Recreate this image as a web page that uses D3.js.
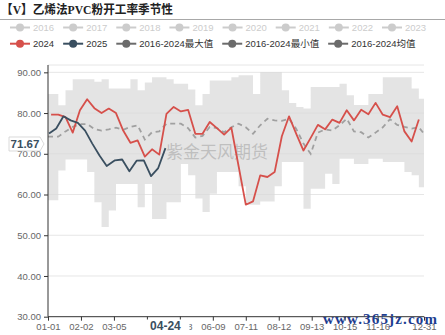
<!DOCTYPE html>
<html>
<head>
<meta charset="utf-8">
<script src="https://cdn.jsdelivr.net/npm/d3@7"></script>
<style>
  html, body { margin: 0; padding: 0; background: #fff; }
  svg { display: block; }
</style>
</head>
<body>
<svg id="chart" width="445" height="335"></svg>
<script>
// Operating rate of ethylene-process PVC, seasonal view (%)
const title = "【V】乙烯法PVC粉开工率季节性";

const legendRow1 = ["2016", "2017", "2018", "2019", "2020", "2021", "2022", "2023"];
const legendRow2 = ["2024", "2025", "2016-2024最大值", "2016-2024最小值", "2016-2024均值"];

const yTicks = [30, 40, 50, 60, 70, 80, 90];
const yMax = 91.8;
const xTickLabels = ["01-01", "02-02", "03-05", "04-06", "05-08", "06-09", "07-11", "08-12", "09-13", "10-15", "11-16", "12-31"];

// weekly readings (Thursdays)
const values2024 = [79.6, 79.6, 79.0, 75.2, 80.7, 83.4, 81.2, 80.0, 81.1, 80.0,
                    75.7, 72.7, 73.3, 69.3, 71.1, 69.8, 79.8, 81.5, 80.4, 80.8,
                    74.9, 74.9, 77.8, 76.3, 74.7, 76.4, 67.0, 57.5, 58.3, 64.7,
                    64.3, 65.5, 74.3, 79.2, 74.9, 70.8, 73.9, 77.1, 76.0, 78.4,
                    77.6, 80.7, 78.2, 80.8, 79.7, 82.5, 79.6, 79.0, 81.7, 75.5,
                    73.0, 78.4];
const values2025 = [75.0, 76.2, 79.2, 78.2, 77.6, 75.7, 72.5, 69.6, 67.0, 68.4,
                    68.6, 65.7, 68.3, 68.4, 64.5, 66.5, 71.4];
const maxValues = [84.7, 81.9, 85.6, 88.3, 88.3, 88.3, 87.7, 88.3, 86.0, 86.0,
                   86.0, 88.3, 85.6, 87.5, 88.8, 88.8, 88.3, 87.2, 87.2, 85.8,
                   81.9, 84.7, 88.0, 88.0, 88.0, 88.8, 89.3, 89.3, 84.7, 90.1,
                   90.1, 90.1, 85.6, 82.5, 81.5, 81.1, 86.4, 86.4, 86.4, 86.4,
                   87.2, 84.4, 82.0, 82.0, 84.7, 84.7, 88.8, 88.8, 88.8, 88.8,
                   86.0, 83.5];
const minValues = [58.6, 65.9, 68.6, 68.6, 68.6, 65.5, 58.1, 52.0, 56.1, 62.6,
                   62.6, 62.6, 56.9, 62.6, 54.0, 54.0, 58.1, 58.1, 67.5, 64.7,
                   59.0, 55.7, 60.2, 65.5, 65.5, 65.5, 62.0, 57.5, 57.5, 58.3,
                   58.3, 62.0, 68.0, 68.0, 68.0, 56.5, 61.4, 61.4, 65.1, 62.6,
                   68.8, 68.8, 67.5, 67.5, 68.8, 68.8, 68.0, 68.0, 68.0, 65.5,
                   64.7, 61.8];
// mean: 01-01, the weekly points, 12-31
const meanValues = [74.2,
                    74.2, 74.2, 75.5, 76.6, 77.3, 77.3, 76.1, 75.7, 76.0, 76.4,
                    75.9, 76.6, 77.0, 73.5, 75.3, 75.5, 77.4, 77.4, 77.4, 76.3,
                    74.0, 74.4, 76.6, 76.3, 75.3, 76.5, 77.4, 76.5, 74.9, 77.0,
                    78.6, 78.2, 78.1, 78.6, 76.1, 72.5, 70.0, 75.2, 76.0, 75.7,
                    77.0, 78.6, 75.5, 75.3, 74.0, 75.2, 76.5, 78.5, 77.1, 76.6,
                    76.2, 76.5,
                    74.9];
const pointerX = "04-24";
const pointerY = 71.67;

const fmt = d3.timeFormat("%m-%d");
const categories = d3.timeDay.range(new Date(2024, 0, 1), new Date(2025, 0, 1)).map(fmt);
const dates2024 = d3.timeThursday.range(new Date(2024, 0, 4), new Date(2025, 0, 1)).map(fmt);
const dates2025 = d3.timeThursday.range(new Date(2025, 0, 2), new Date(2025, 3, 25)).map(fmt);
const meanDates = [categories[0], ...dates2024, categories[categories.length - 1]];

const colors = {
  y2024: "#d6504b",
  y2025: "#3a4f60",
  stat: "#6b6b6b",
  off: "#cccccc",
  mean: "#a0a0a0",
  band: "#d9d9d9"
};

const svg = d3.select("#chart");
const margin = { left: 48, right: 424, top: 65, bottom: 316.7 };

const x = d3.scalePoint().domain(categories).range([margin.left, margin.right]);
const y = d3.scaleLinear().domain([30, yMax]).range([margin.bottom, margin.top]);

// title
svg.append("text")
  .attr("x", 1).attr("y", 14)
  .attr("font-family", "'Liberation Serif', 'Noto Sans CJK SC', serif")
  .attr("font-weight", "bold")
  .attr("font-size", 12.5)
  .attr("textLength", 172)
  .attr("lengthAdjust", "spacingAndGlyphs")
  .attr("fill", "#222")
  .text(title);
svg.append("line")
  .attr("x1", 0).attr("x2", 445).attr("y1", 19.5).attr("y2", 19.5)
  .attr("stroke", "#a8a8a8").attr("stroke-width", 1);

// legend
const legendFont = "'Liberation Sans', 'Noto Sans CJK SC', sans-serif";
function legendRow(items, rowY, colorOf, textColorOf) {
  let cx = 10;
  items.forEach(name => {
    const g = svg.append("g").attr("transform", `translate(${cx},${rowY})`);
    const c = colorOf(name);
    g.append("line").attr("x1", 0).attr("x2", 20).attr("y1", 0).attr("y2", 0)
      .attr("stroke", c).attr("stroke-width", 2);
    g.append("circle").attr("cx", 10).attr("cy", 0).attr("r", 4).attr("fill", c);
    const t = g.append("text").attr("x", 23).attr("y", 3.4)
      .attr("font-family", legendFont).attr("font-size", 9.5)
      .attr("fill", textColorOf(name)).text(name);
    cx += 23 + t.node().getComputedTextLength() + 9;
  });
}
legendRow(legendRow1, 27.5, () => colors.off, () => colors.off);
legendRow(legendRow2, 43.7,
  n => n === "2024" ? colors.y2024 : n === "2025" ? colors.y2025 : colors.stat,
  () => "#333");

// grid
const grid = svg.append("g");
grid.selectAll("line.h").data([...yTicks.slice(1), yMax]).join("line")
  .attr("x1", margin.left).attr("x2", margin.right)
  .attr("y1", d => y(d)).attr("y2", d => y(d))
  .attr("stroke", "#e6e6e6").attr("stroke-width", 1);

// max/min band
const bandData = [
  { d: categories[0], hi: maxValues[0], lo: minValues[0] },
  ...dates2024.map((d, i) => ({ d, hi: maxValues[i], lo: minValues[i] })),
  { d: categories[categories.length - 1], hi: maxValues[maxValues.length - 1], lo: minValues[minValues.length - 1] }
];
svg.append("path")
  .datum(bandData)
  .attr("fill", colors.band).attr("fill-opacity", 0.72)
  .attr("d", d3.area().curve(d3.curveStepAfter)
    .x(p => x(p.d)).y0(p => y(p.lo)).y1(p => y(p.hi)));

// watermark
svg.append("text")
  .attr("x", 217).attr("y", 158)
  .attr("text-anchor", "middle")
  .attr("font-family", "'Noto Sans CJK SC', sans-serif")
  .attr("font-size", 17)
  .attr("fill", "#9a9a9a").attr("fill-opacity", 0.5)
  .text("紫金天风期货");

const line = d3.line().x(p => x(p[0])).y(p => y(p[1]));

// mean
svg.append("path")
  .datum(meanDates.map((d, i) => [d, meanValues[i]]))
  .attr("fill", "none").attr("stroke", colors.mean).attr("stroke-width", 1.8)
  .attr("stroke-dasharray", "5,4")
  .attr("d", line);

// 2024
svg.append("path")
  .datum(dates2024.map((d, i) => [d, values2024[i]]))
  .attr("fill", "none").attr("stroke", colors.y2024).attr("stroke-width", 1.8)
  .attr("stroke-linejoin", "round")
  .attr("d", line);

// 2025
svg.append("path")
  .datum(dates2025.map((d, i) => [d, values2025[i]]))
  .attr("fill", "none").attr("stroke", colors.y2025).attr("stroke-width", 1.8)
  .attr("stroke-linejoin", "round")
  .attr("d", line);

// y axis
const yAxis = svg.append("g")
  .attr("transform", `translate(${margin.left},0)`)
  .call(d3.axisLeft(y).tickValues(yTicks).tickFormat(d3.format(".2f")).tickSize(4).tickPadding(3));
yAxis.select(".domain").attr("d", `M0,${margin.top}V${margin.bottom}`).attr("stroke", "#333");
yAxis.selectAll(".tick line").attr("stroke", "#333");
yAxis.selectAll(".tick text").attr("font-family", legendFont).attr("font-size", 9.5).attr("fill", "#666");

// x axis
const xAxis = svg.append("g")
  .attr("transform", `translate(0,${margin.bottom})`)
  .call(d3.axisBottom(x).tickValues(xTickLabels).tickSize(4).tickPadding(3));
xAxis.select(".domain").attr("d", `M${margin.left},0H${margin.right}`).attr("stroke", "#333");
xAxis.selectAll(".tick line").attr("stroke", "#333");
xAxis.selectAll(".tick text").attr("font-family", legendFont).attr("font-size", 9.5).attr("fill", "#666");

// pointer labels
const px = x(pointerX);
const xl = svg.append("g");
xl.append("rect").attr("x", px - 32).attr("y", 319.5).attr("width", 56).attr("height", 14).attr("fill", "#fff");
xl.append("text").attr("x", px).attr("y", 330)
  .attr("text-anchor", "middle")
  .attr("font-family", legendFont).attr("font-weight", "bold").attr("font-size", 12)
  .attr("fill", colors.y2025).text(pointerX);

const py = y(pointerY) - 3;
const yl = svg.append("g");
yl.append("path")
  .attr("d", `M9,${py - 7}H40L44,${py}L40,${py + 7}H9Z`)
  .attr("fill", "#fff").attr("stroke", "#d0d0d0").attr("stroke-width", 0.8);
yl.append("text").attr("x", 25).attr("y", py + 4)
  .attr("text-anchor", "middle")
  .attr("font-family", legendFont).attr("font-weight", "bold").attr("font-size", 11.5)
  .attr("fill", colors.y2025).text(d3.format(".2f")(pointerY));

// site mark
svg.append("text")
  .attr("x", 323).attr("y", 324)
  .attr("font-family", "'Liberation Serif', serif")
  .attr("font-weight", "bold")
  .attr("font-size", 15)
  .attr("textLength", 114)
  .attr("fill", "#1d3d8f")
  .text("www.365jz.com");
</script>
</body>
</html>
